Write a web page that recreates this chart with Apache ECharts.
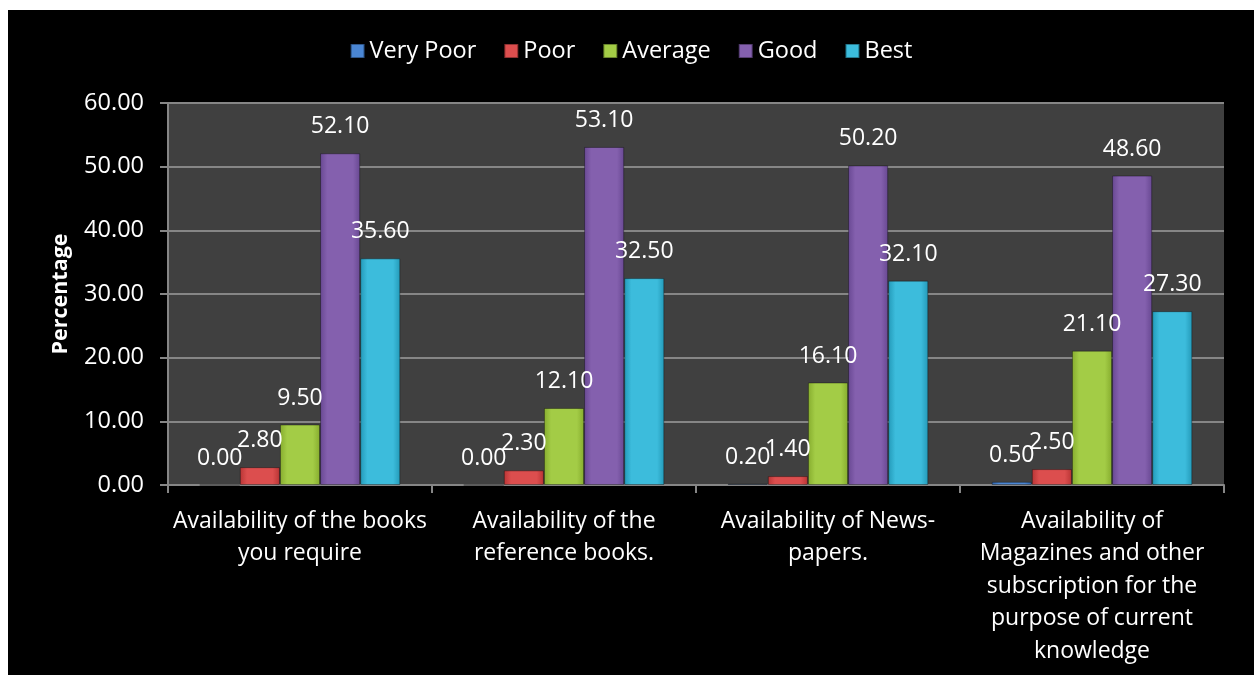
<!DOCTYPE html>
<html>
<head>
<meta charset="utf-8">
<script src="https://cdn.jsdelivr.net/npm/echarts@6/dist/echarts.min.js"></script>
<style>
html,body{margin:0;padding:0;background:#ffffff;width:1258px;height:675px;overflow:hidden;}
#chart{position:absolute;left:8px;top:10px;width:1246px;height:665px;background:#000000;}
</style>
</head>
<body>
<div id="chart"></div>
<script>
const categories = [
  'Availability of the books\nyou require',
  'Availability of the\nreference books.',
  'Availability of News-\npapers.',
  'Availability of\nMagazines and other\nsubscription for the\npurpose of current\nknowledge'
];
const seriesNames = ['Very Poor', 'Poor', 'Average', 'Good', 'Best'];
const veryPoor = [0.00, 0.00, 0.20, 0.50];
const poor = [2.80, 2.30, 1.40, 2.50];
const average = [9.50, 12.10, 16.10, 21.10];
const good = [52.10, 53.10, 50.20, 48.60];
const best = [35.60, 32.50, 32.10, 27.30];
const yTicks = [0, 10, 20, 30, 40, 50, 60];

const colors = [
  ['#2d62a8', '#4a86d4', '#2d62a8'],
  ['#b83434', '#dc4e4e', '#b83434'],
  ['#86ac2e', '#a3cc46', '#86ac2e'],
  ['#684892', '#8460ae', '#684892'],
  ['#2399b8', '#3cbcdc', '#2399b8']
];
const FONT = 'Open Sans';
function grad(c) {
  return new echarts.graphic.LinearGradient(0, 0, 1, 0, [
    {offset: 0, color: c[0]},
    {offset: 0.18, color: c[1]},
    {offset: 0.82, color: c[1]},
    {offset: 1, color: c[2]}
  ]);
}
const allData = [veryPoor, poor, average, good, best];
const chart = echarts.init(document.getElementById('chart'));
chart.setOption({
  backgroundColor: '#000000',
  animation: false,
  textStyle: {fontFamily: FONT},
  legend: {
    top: 24,
    left: 'center',
    itemWidth: 14,
    itemHeight: 14,
    itemGap: 27,
    textStyle: {color: '#ffffff', fontSize: 23.5, fontFamily: FONT},
    data: seriesNames.map(n => ({name: n, icon: 'rect'}))
  },
  grid: {
    left: 160, right: 30, top: 93, bottom: 190,
    show: true, backgroundColor: '#404040', borderWidth: 0
  },
  xAxis: {
    type: 'category',
    data: categories,
    axisLine: {lineStyle: {color: '#868686', width: 2}},
    axisTick: {show: true, length: 8, lineStyle: {color: '#868686', width: 2}},
    axisLabel: {color: '#ffffff', fontSize: 23, lineHeight: 32.5, margin: 20, fontFamily: FONT, interval: 0}
  },
  yAxis: {
    type: 'value',
    min: yTicks[0], max: yTicks[yTicks.length - 1], interval: 10,
    name: 'Percentage',
    nameLocation: 'middle',
    nameGap: 96,
    nameRotate: 90,
    nameTextStyle: {color: '#ffffff', fontSize: 21.5, fontWeight: 'bold', fontFamily: FONT},
    axisLine: {show: true, lineStyle: {color: '#868686', width: 2}},
    axisTick: {show: true, length: 8, lineStyle: {color: '#868686', width: 2}},
    splitLine: {lineStyle: {color: '#868686', width: 2}},
    axisLabel: {color: '#ffffff', fontSize: 23.5, margin: 24, fontFamily: FONT, formatter: v => v.toFixed(2)}
  },
  series: seriesNames.map((name, i) => ({
    name: name,
    type: 'bar',
    barGap: '0%',
    barCategoryGap: '24%',
    data: allData[i],
    itemStyle: {color: grad(colors[i]), borderColor: 'rgba(0,0,0,0.35)', borderWidth: 1},
    label: {
      show: true, position: 'top', distance: 15,
      color: '#ffffff', fontSize: 23, fontFamily: FONT,
      formatter: p => p.value.toFixed(2)
    }
  })),
  color: colors.map(c => c[1])
});
</script>
</body>
</html>
